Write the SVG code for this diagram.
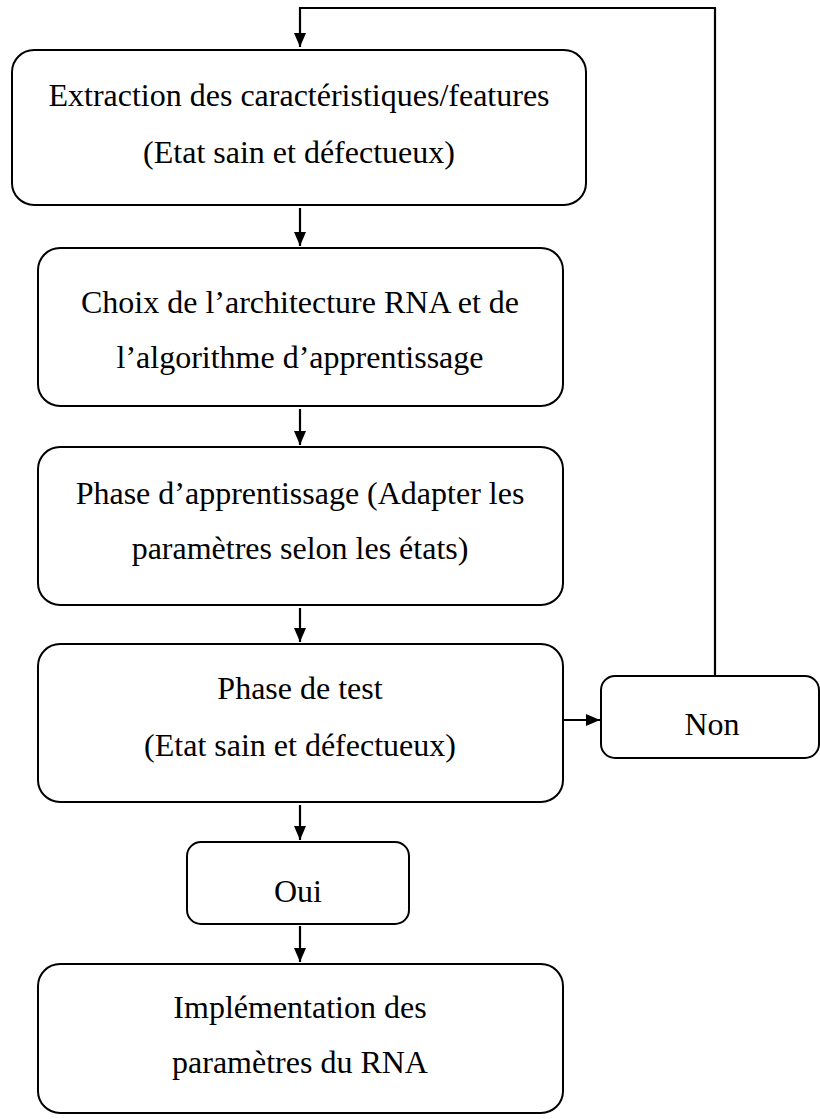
<svg xmlns="http://www.w3.org/2000/svg" width="820" height="1119" viewBox="0 0 820 1119">
  <style>
    .box { fill: #ffffff; stroke: #000000; stroke-width: 2; }
    .lbl { font-family: "Liberation Serif", "Times New Roman", serif; font-size: 32px; fill: #000000; text-anchor: middle; }
    .conn { fill: none; stroke: #000000; stroke-width: 2.2; }
  </style>
  <defs>
    <marker id="arrow" viewBox="0 0 14 12" refX="14" refY="6" markerWidth="14" markerHeight="12" markerUnits="userSpaceOnUse" orient="auto">
      <path d="M0,0 L14,6 L0,12 z" fill="#000000"/>
    </marker>
  </defs>
  <rect width="820" height="1119" fill="#ffffff"/>

  <g id="connectors">
    <polyline class="conn" points="715,676 715,8 300,8 300,47" marker-end="url(#arrow)"/>
    <line class="conn" x1="300" y1="208" x2="300" y2="246" marker-end="url(#arrow)"/>
    <line class="conn" x1="300" y1="409" x2="300" y2="445" marker-end="url(#arrow)"/>
    <line class="conn" x1="300" y1="608" x2="300" y2="642" marker-end="url(#arrow)"/>
    <line class="conn" x1="563" y1="720" x2="600" y2="720" marker-end="url(#arrow)"/>
    <line class="conn" x1="300" y1="805" x2="300" y2="840" marker-end="url(#arrow)"/>
    <line class="conn" x1="300" y1="926" x2="300" y2="962" marker-end="url(#arrow)"/>
  </g>

  <g id="node-extraction">
    <rect class="box" x="12" y="50" width="574" height="155" rx="22" ry="22"/>
    <text class="lbl" x="299" y="106">Extraction des caractéristiques/features</text>
    <text class="lbl" x="299" y="163">(Etat sain et défectueux)</text>
  </g>

  <g id="node-choix">
    <rect class="box" x="38" y="248" width="525" height="158" rx="22" ry="22"/>
    <text class="lbl" x="300" y="313">Choix de l’architecture RNA et de</text>
    <text class="lbl" x="300" y="368">l’algorithme d’apprentissage</text>
  </g>

  <g id="node-apprentissage">
    <rect class="box" x="38" y="447" width="525" height="158" rx="22" ry="22"/>
    <text class="lbl" x="300" y="504">Phase d’apprentissage (Adapter les</text>
    <text class="lbl" x="300" y="559">paramètres selon les états)</text>
  </g>

  <g id="node-test">
    <rect class="box" x="38" y="644" width="525" height="158" rx="22" ry="22"/>
    <text class="lbl" x="300" y="699">Phase de test</text>
    <text class="lbl" x="300" y="756">(Etat sain et défectueux)</text>
  </g>

  <g id="node-non">
    <rect class="box" x="601" y="676" width="218" height="82" rx="14" ry="14"/>
    <text class="lbl" x="712" y="735">Non</text>
  </g>

  <g id="node-oui">
    <rect class="box" x="187" y="842" width="222" height="82" rx="14" ry="14"/>
    <text class="lbl" x="298" y="902">Oui</text>
  </g>

  <g id="node-implementation">
    <rect class="box" x="38" y="964" width="525" height="149" rx="22" ry="22"/>
    <text class="lbl" x="300" y="1018">Implémentation des</text>
    <text class="lbl" x="300" y="1073">paramètres du RNA</text>
  </g>
</svg>
